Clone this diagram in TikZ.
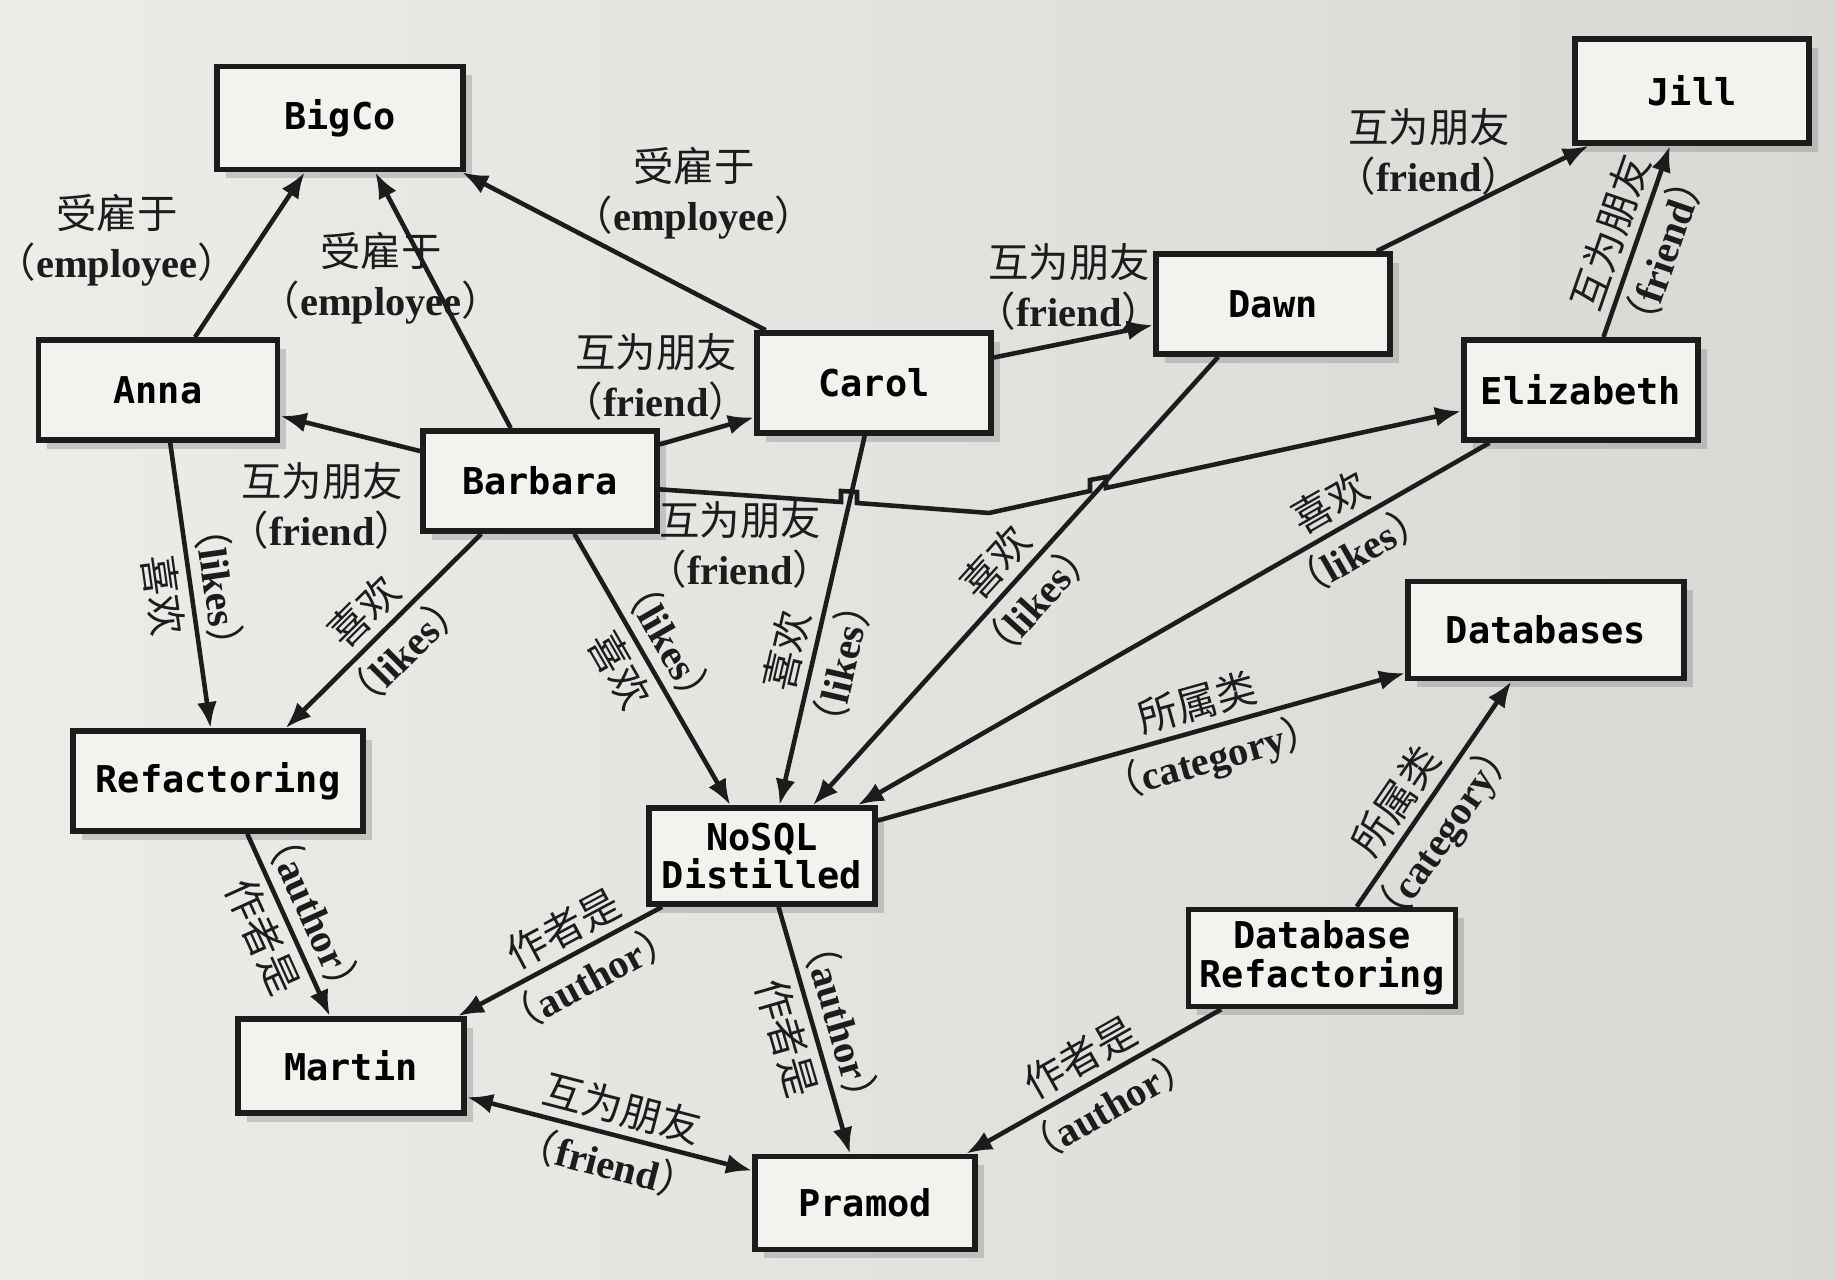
\documentclass[tikz,border=0pt]{standalone}
\usepackage{fontspec}
\setmainfont{Liberation Serif}
\newfontfamily\cjkf{Noto Sans CJK SC}
\newfontfamily\monof{DejaVu Sans Mono}
\usetikzlibrary{arrows.meta,shadows}

\definecolor{paper}{RGB}{236,236,233}
\definecolor{paperdark}{RGB}{216,216,213}
\definecolor{boxfill}{RGB}{242,242,239}
\definecolor{ink}{RGB}{28,28,28}

\newcommand\cntxt[1]{{\cjkf #1}}
\newcommand\entxt[1]{{\cjkf （}{\bfseries #1}{\cjkf ）}}
\newcommand\pairtxt[2]{\cntxt{#1}\\\entxt{#2}}

\begin{document}
\begin{tikzpicture}[
  x=0.01cm, y=-0.01cm,
  >={Latex[length=2.6mm,width=2mm]},
  box/.style={draw=ink,line width=1.6pt,fill=boxfill,minimum width=2.34cm,minimum height=1cm,
    inner sep=2pt,align=center,font=\monof\bfseries\fontsize{10.5}{11}\selectfont,
    drop shadow={shadow xshift=2.5pt,shadow yshift=-2.5pt,opacity=.35}},
  link/.style={->,draw=ink,line width=1.3pt},
  lbl/.style={align=center,text=ink,font=\fontsize{11.5}{14}\selectfont,inner sep=1pt},
  tag/.style={sloped,text=ink,font=\fontsize{11.5}{14}\selectfont,inner sep=2pt}
]
  % paper
  \shade[left color=paper,right color=paperdark] (0,0) rectangle (1836,1280);
  \useasboundingbox (0,0) rectangle (1836,1280);

  % people, company, books, categories
  \node[box,minimum width=2.46cm,minimum height=1.03cm] (bigco) at (340,118) {BigCo};
  \node[box,minimum width=2.39cm] (anna) at (158,390) {Anna};
  \node[box] (barbara) at (540,481) {Barbara};
  \node[box] (carol) at (874,383) {Carol};
  \node[box] (dawn) at (1273,304) {Dawn};
  \node[box,minimum height=1.04cm] (jill) at (1692,91) {Jill};
  \node[box] (elizabeth) at (1581,390) {Elizabeth};
  \node[box,minimum width=2.76cm,minimum height=.97cm] (databases) at (1546,630) {Databases};
  \node[box,minimum width=2.9cm] (refactoring) at (218,781) {Refactoring};
  \node[box,minimum width=2.26cm,minimum height=.96cm] (nosql) at (762,856) {NoSQL\\Distilled};
  \node[box,minimum width=2.67cm,minimum height=.97cm] (dbrefac) at (1322,958) {Database\\Refactoring};
  \node[box,minimum width=2.26cm,minimum height=.94cm] (martin) at (351,1066) {Martin};
  \node[box,minimum width=2.2cm,minimum height=.93cm] (pramod) at (865,1203) {Pramod};

  % employee
  \draw[link] (anna.55) -- (bigco.237);
  \draw[link] (barbara.119) -- (bigco.303);
  \draw[link] (carol.154) -- (bigco.336);
  \node[lbl] (empanna) at (117,240) {\pairtxt{受雇于}{employee}};
  \node[lbl] (empbarbara) at (381,278) {\pairtxt{受雇于}{employee}};
  \node[lbl] (empcarol) at (694,193) {\pairtxt{受雇于}{employee}};

  % friend
  \draw[link] (barbara.166) -- (anna.348);
  \draw[link] (barbara.17) -- (carol.196);
  \draw[link] (carol.12) -- (dawn.190);
  \draw[link] (dawn.27) -- (jill.208);
  \draw[link] (barbara.356) -- (841,502) -- ++(0,-11) -- ++(16,1) -- ++(0,11) -- (989,513)
    -- (1090,491) -- ++(0,-11) -- ++(16,-3) -- ++(0,11) -- (elizabeth.190);
  \draw[link] (elizabeth.67) -- node[tag,above] {\cntxt{互为朋友}}
    node[tag,below] {\entxt{friend}} (jill.248);
  \draw[link,<->] (martin.345) -- node[tag,above,pos=.52] {\cntxt{互为朋友}}
    node[tag,below,pos=.52] {\entxt{friend}} (pramod.164);
  \node[lbl] (frdanna) at (322,506) {\pairtxt{互为朋友}{friend}};
  \node[lbl] (frdcarol) at (656,377) {\pairtxt{互为朋友}{friend}};
  \node[lbl] (frdeliz) at (740,545) {\pairtxt{互为朋友}{friend}};
  \node[lbl] (frddawn) at (1069,287) {\pairtxt{互为朋友}{friend}};
  \node[lbl] (frdjill) at (1429,152) {\pairtxt{互为朋友}{friend}};

  % likes
  \draw[link] (anna.283) -- node[tag,below,pos=.52] {\cntxt{喜欢}}
    node[tag,above,pos=.52] {\entxt{likes}} (refactoring.98);
  \draw[link] (barbara.222) -- node[tag,above] {\cntxt{喜欢}}
    node[tag,below] {\entxt{likes}} (refactoring.38);
  \draw[link] (barbara.303) -- node[tag,below,pos=.45] {\cntxt{喜欢}}
    node[tag,above,pos=.45] {\entxt{likes}} (nosql.122);
  \draw[link] (carol.260) -- node[tag,above,pos=.6] {\cntxt{喜欢}}
    node[tag,below,pos=.6] {\entxt{likes}} (nosql.71);
  \draw[link] (dawn.224) -- node[tag,above] {\cntxt{喜欢}}
    node[tag,below] {\entxt{likes}} (nosql.45);
  \draw[link] (elizabeth.210) -- node[tag,above,pos=.23] {\cntxt{喜欢}}
    node[tag,below,pos=.23] {\entxt{likes}} (nosql.28);

  % category
  \draw[link] (nosql.17) -- node[tag,above,pos=.62] {\cntxt{所属类}}
    node[tag,below,pos=.62] {\entxt{category}} (databases.197);
  \draw[link] (dbrefac.56) -- node[tag,above,pos=.4] {\cntxt{所属类}}
    node[tag,below,pos=.4] {\entxt{category}} (databases.236);

  % author
  \draw[link] (refactoring.299) -- node[tag,below] {\cntxt{作者是}}
    node[tag,above] {\entxt{author}} (martin.113);
  \draw[link] (nosql.207) -- node[tag,above,pos=.42] {\cntxt{作者是}}
    node[tag,below,pos=.42] {\entxt{author}} (martin.25);
  \draw[link] (nosql.288) -- node[tag,below] {\cntxt{作者是}}
    node[tag,above] {\entxt{author}} (pramod.107);
  \draw[link] (dbrefac.207) -- node[tag,above] {\cntxt{作者是}}
    node[tag,below] {\entxt{author}} (pramod.26);
\end{tikzpicture}
\end{document}
